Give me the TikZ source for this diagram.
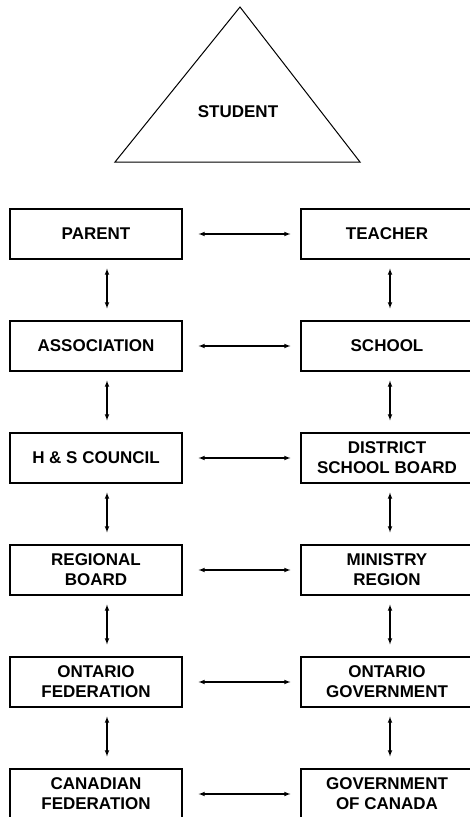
\documentclass[tikz,border=0pt]{standalone}
\usepackage{fontspec}
\setmainfont{Liberation Sans}
\usetikzlibrary{arrows,%
                shapes,positioning}

\begin{document}
\begin{tikzpicture}[x=1pt,y=-1pt,>=latex,
  every node/.style={font=\bfseries\fontsize{17}{20}\selectfont,align=center},
  orgbox/.style={draw,line width=1.2pt,minimum width=172pt,minimum height=50pt,inner sep=0pt},
  link/.style={<->,line width=1.1pt}]
\useasboundingbox (0,0) rectangle (470,817);
\draw[line width=1pt] (240,7) -- (360,162) -- (115,162) -- cycle;
\node (student) at (238,112) {STUDENT};
\node[orgbox] (parent) at (96,234) {PARENT};
\node[orgbox] (teacher) at (387,234) {TEACHER};
\node[orgbox] (assoc) at (96,346) {ASSOCIATION};
\node[orgbox] (school) at (387,346) {SCHOOL};
\node[orgbox] (council) at (96,458) {H \& S COUNCIL};
\node[orgbox] (district) at (387,458) {DISTRICT\\SCHOOL BOARD};
\node[orgbox] (regional) at (96,570) {REGIONAL\\BOARD};
\node[orgbox] (ministry) at (387,570) {MINISTRY\\REGION};
\node[orgbox] (ontfed) at (96,682) {ONTARIO\\FEDERATION};
\node[orgbox] (ontgov) at (387,682) {ONTARIO\\GOVERNMENT};
\node[orgbox] (canfed) at (96,794) {CANADIAN\\FEDERATION};
\node[orgbox] (cangov) at (387,794) {GOVERNMENT\\OF CANADA};
\draw[link,shorten <=16pt,shorten >=10pt] (parent) -- (teacher);
\draw[link,shorten <=16pt,shorten >=10pt] (assoc) -- (school);
\draw[link,shorten <=16pt,shorten >=10pt] (council) -- (district);
\draw[link,shorten <=16pt,shorten >=10pt] (regional) -- (ministry);
\draw[link,shorten <=16pt,shorten >=10pt] (ontfed) -- (ontgov);
\draw[link,shorten <=16pt,shorten >=10pt] (canfed) -- (cangov);
\draw[link] ([xshift=11pt,yshift=-9pt]parent.south) -- ([xshift=11pt,yshift=12pt]assoc.north);
\draw[link] ([xshift=11pt,yshift=-9pt]assoc.south) -- ([xshift=11pt,yshift=12pt]council.north);
\draw[link] ([xshift=11pt,yshift=-9pt]council.south) -- ([xshift=11pt,yshift=12pt]regional.north);
\draw[link] ([xshift=11pt,yshift=-9pt]regional.south) -- ([xshift=11pt,yshift=12pt]ontfed.north);
\draw[link] ([xshift=11pt,yshift=-9pt]ontfed.south) -- ([xshift=11pt,yshift=12pt]canfed.north);
\draw[link] ([xshift=3pt,yshift=-9pt]teacher.south) -- ([xshift=3pt,yshift=12pt]school.north);
\draw[link] ([xshift=3pt,yshift=-9pt]school.south) -- ([xshift=3pt,yshift=12pt]district.north);
\draw[link] ([xshift=3pt,yshift=-9pt]district.south) -- ([xshift=3pt,yshift=12pt]ministry.north);
\draw[link] ([xshift=3pt,yshift=-9pt]ministry.south) -- ([xshift=3pt,yshift=12pt]ontgov.north);
\draw[link] ([xshift=3pt,yshift=-9pt]ontgov.south) -- ([xshift=3pt,yshift=12pt]cangov.north);
\end{tikzpicture}
\end{document}
